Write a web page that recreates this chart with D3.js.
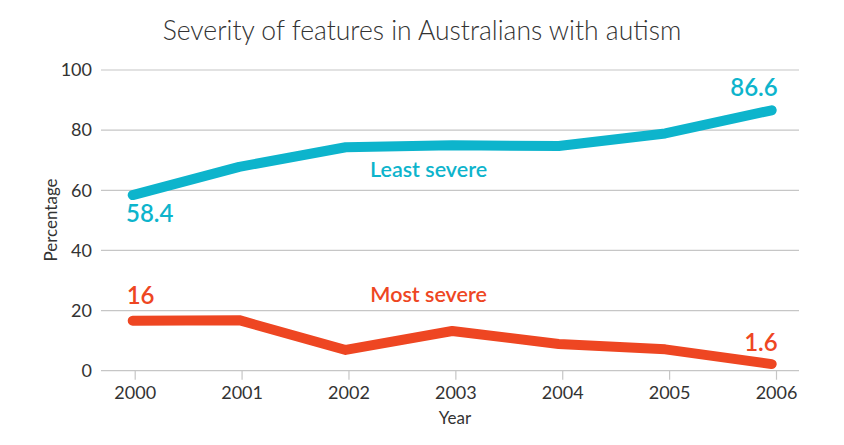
<!DOCTYPE html>
<html><head><meta charset="utf-8">
<script src="https://cdn.jsdelivr.net/npm/d3@7"></script>
<style>
html,body{margin:0;padding:0;background:#fff;}
svg{display:block;font-family:Lato,"Open Sans",sans-serif;}
</style></head>
<body><svg id="chart" width="844" height="445"></svg>
<script>
const years = [2000, 2001, 2002, 2003, 2004, 2005, 2006];
const leastSevere = [58.4, 67.8, 74.3, 75.0, 74.7, 78.9, 86.6];
const mostSevere = [16.6, 16.8, 6.9, 13.2, 8.9, 7.1, 2.2];
const yTicks = [0, 20, 40, 60, 80, 100];
const leastLabels = ["58.4", "86.6"];
const mostLabels = ["16", "1.6"];

const svg = d3.select("#chart");
const x = d3.scaleLinear().domain([2000, 2006]).range([134.7, 776]);
const xLine = d3.scaleLinear().domain([2000, 2006]).range([132.7, 771.7]);
const y = d3.scaleLinear().domain([0, 100]).range([370.7, 70]);
const gridLeft = 101, gridRight = 799;
const cyan = "#0db4cc", red = "#ee4622", txt = "#333";

// title
svg.append("text").attr("x", 422).attr("y", 40).attr("text-anchor", "middle")
  .attr("font-size", 26.5).attr("font-weight", 300).attr("fill", txt)
  .text("Severity of features in Australians with autism");

// grid
svg.append("g").selectAll("line").data(yTicks).join("line")
  .attr("x1", gridLeft).attr("x2", gridRight)
  .attr("y1", d => y(d)).attr("y2", d => y(d))
  .attr("stroke", "#c6c6c6").attr("stroke-width", 1.2);

// y axis labels
const yAxis = d3.axisLeft(y).tickValues(yTicks).tickSize(0).tickPadding(0);
const gy = svg.append("g").attr("transform", `translate(92,0)`).call(yAxis);
gy.select(".domain").remove();
gy.selectAll("text").attr("font-size", 18).attr("fill", txt).attr("font-family", "Lato");

// x axis
const xAxis = d3.axisBottom(x).tickValues(years).tickFormat(d3.format("d")).tickSize(9).tickPadding(7);
const gx = svg.append("g").attr("transform", `translate(0,${y(0)})`).call(xAxis);
gx.select(".domain").remove();
gx.selectAll("line").attr("stroke", "#c6c6c6").attr("stroke-width", 1.2);
gx.selectAll("text").attr("font-size", 18).attr("fill", txt).attr("font-family", "Lato");

// axis titles
svg.append("text").attr("x", 455).attr("y", 424).attr("text-anchor", "middle")
  .attr("font-size", 17).attr("fill", txt).text("Year");
svg.append("text").attr("transform", "translate(57,220) rotate(-90)").attr("text-anchor", "middle")
  .attr("font-size", 17).attr("fill", txt).text("Percentage");

// lines
const line = d3.line().x((d, i) => xLine(years[i])).y(d => y(d));
function drawLine(vals, color) {
  svg.append("path").datum(vals).attr("d", line)
    .attr("fill", "none").attr("stroke", color).attr("stroke-width", 10)
    .attr("stroke-linecap", "round").attr("stroke-linejoin", "round");
}
drawLine(leastSevere, cyan);
drawLine(mostSevere, red);

// labels
function lab(t, xx, yy, anchor, color, size) {
  svg.append("text").attr("x", xx).attr("y", yy).attr("text-anchor", anchor)
    .attr("font-size", size).attr("font-weight", 600).attr("fill", color).text(t);
}
lab(leastLabels[0], xLine(years[0]) + 17, y(leastSevere[0]) + 27, "middle", cyan, 24);
lab(leastLabels[1], xLine(years[6]) + 6, y(leastSevere[6]) - 14, "end", cyan, 24);
lab("Least severe", x(2002.75), y(64.5), "middle", cyan, 21.5);
lab(mostLabels[0], xLine(years[0]) - 6, y(mostSevere[0]) - 17, "start", red, 24);
lab(mostLabels[1], xLine(years[6]) + 6, y(mostSevere[6]) - 13, "end", red, 24);
lab("Most severe", x(2002.75), y(23), "middle", red, 21.5);
</script></body></html>
